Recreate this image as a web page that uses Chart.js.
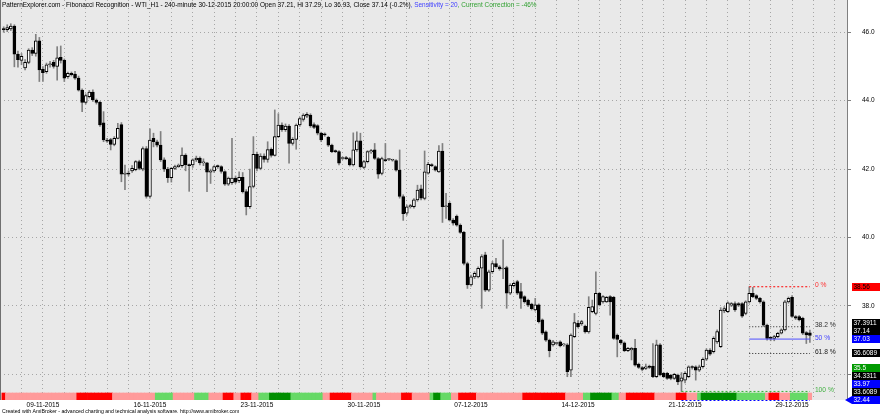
<!DOCTYPE html>
<html><head><meta charset="utf-8">
<script src="https://cdn.jsdelivr.net/npm/chart.js@4"></script>
<style>html,body{margin:0;padding:0;background:#fff;overflow:hidden}#wrap{width:880px;height:415px}</style>
</head><body><div id="wrap"><canvas id="c" width="880" height="415"></canvas></div>
<script>
// ---- data (240-minute bars, WTI) ----
const opens = [
46.10,46.08,46.10,46.18,45.36,45.18,44.96,45.12,45.48,45.38,
45.75,44.92,44.85,45.05,45.12,45.00,45.27,45.18,44.70,44.80,
44.78,44.66,44.31,43.95,44.12,44.25,44.02,43.95,43.35,42.85,
42.86,42.72,42.90,43.30,41.85,41.88,41.95,41.98,42.22,42.00,
42.60,41.20,42.90,42.80,42.70,42.27,42.00,41.75,42.02,42.07,
42.10,42.41,42.12,42.12,42.27,42.32,42.18,42.18,41.91,41.95,
42.10,42.07,41.93,41.56,41.60,41.74,41.66,41.76,41.34,40.90,
41.49,42.43,42.02,42.38,42.28,42.58,42.40,42.95,43.29,43.15,
43.26,42.75,42.87,43.29,43.45,43.55,43.58,43.30,43.27,43.05,
43.03,42.93,42.70,42.53,42.51,42.31,42.34,42.31,42.12,42.56,
42.83,42.05,42.22,42.50,42.56,42.31,41.87,42.28,42.28,42.26,
42.25,41.97,41.20,40.71,40.90,40.90,41.10,41.42,41.14,41.88,
42.12,42.07,41.92,42.53,40.90,41.00,40.51,40.63,40.36,40.15,
39.24,38.61,38.85,38.85,39.10,39.49,38.46,39.00,39.24,39.14,
39.08,39.12,38.37,38.59,38.71,38.42,38.27,38.17,38.05,37.88,
38.03,37.59,37.24,37.00,36.86,36.90,36.95,36.86,36.86,36.12,
37.10,37.49,37.47,37.41,37.24,37.83,37.78,38.37,38.12,38.12,
38.27,38.25,37.15,37.00,36.92,36.69,36.71,36.76,36.30,36.20,
36.17,36.24,36.24,35.93,36.86,36.03,36.03,35.98,35.88,35.98,
35.80,35.83,35.93,36.22,36.22,36.12,36.22,36.44,36.71,36.66,
36.95,36.81,37.85,37.83,38.02,38.07,38.07,38.07,37.78,38.12,
38.37,38.30,38.22,38.12,37.44,37.07,37.05,37.10,37.20,37.30,
38.12,38.25,37.69,37.69,37.64,37.22,37.21];
const highs = [
46.16,46.22,46.25,46.22,45.45,45.38,45.20,45.52,45.55,45.94,
45.85,45.00,45.10,45.15,45.18,45.58,45.60,45.22,44.84,44.84,
44.86,44.72,44.35,44.20,44.30,44.32,44.05,43.98,43.68,42.90,
42.90,42.95,43.34,43.36,42.12,41.95,42.10,42.25,42.26,42.65,
42.66,43.18,43.05,42.85,43.10,42.33,42.05,42.05,42.12,42.15,
42.62,42.45,42.15,42.30,42.38,42.36,42.30,42.20,42.00,42.10,
42.12,42.10,41.95,41.77,42.90,41.80,41.92,41.90,41.40,42.00,
42.95,42.50,42.45,42.45,42.80,42.62,43.73,43.62,43.35,43.32,
43.30,42.92,43.32,43.52,43.62,43.65,43.62,43.35,43.30,43.08,
43.06,42.96,42.73,42.56,42.54,42.36,42.37,42.34,43.06,43.09,
43.05,42.25,42.54,42.58,42.75,42.34,42.35,42.75,42.31,42.29,
42.28,42.56,41.25,40.95,40.97,41.14,41.53,41.53,42.53,42.20,
42.16,42.10,42.69,42.75,41.29,41.05,40.55,40.66,40.40,40.18,
39.28,38.90,39.00,39.14,39.50,39.57,39.05,39.30,39.39,39.18,
39.93,39.16,38.65,38.70,38.75,38.66,38.30,38.20,38.08,38.22,
38.06,37.62,37.27,37.03,36.99,36.94,36.98,36.90,36.90,37.18,
37.78,37.57,37.58,37.44,38.27,38.17,39.00,38.40,38.30,38.28,
38.30,38.28,37.18,37.02,36.95,36.79,36.79,37.02,36.33,36.23,
36.30,36.27,36.90,37.00,36.90,36.06,36.06,36.00,36.03,36.01,
36.05,36.08,36.25,36.25,36.25,36.27,36.48,36.75,36.75,37.10,
37.30,37.95,37.98,38.12,38.10,38.12,38.10,38.10,38.15,38.56,
38.54,38.33,38.25,38.15,37.47,37.10,37.14,37.23,37.33,38.16,
38.26,38.30,37.72,37.72,37.67,37.25,37.29];
const lows = [
46.00,46.02,46.05,44.99,44.98,45.05,44.90,45.08,45.32,45.30,
44.56,44.56,44.80,44.98,44.95,44.60,45.10,44.56,44.65,44.72,
44.62,44.28,43.68,43.90,44.08,43.98,43.90,43.25,42.80,42.78,
42.56,42.68,42.88,41.63,41.40,41.80,41.90,41.95,41.98,41.95,
41.15,41.15,42.65,42.65,42.22,41.93,41.61,41.62,41.98,42.05,
42.05,41.95,41.35,42.05,42.22,42.12,42.10,41.34,41.58,41.90,
42.02,41.88,41.52,41.52,41.55,41.58,41.60,41.30,40.66,40.85,
41.45,41.95,41.98,42.20,42.20,42.35,42.38,42.92,43.10,43.10,
42.17,42.70,42.58,43.25,43.40,43.50,43.22,43.18,43.00,42.80,
42.96,42.66,42.48,42.48,42.12,42.28,42.28,42.09,42.09,42.52,
42.03,42.02,42.18,42.46,42.28,41.73,41.83,42.22,42.25,42.23,
41.94,41.15,40.50,40.65,40.86,40.86,41.06,41.10,41.10,41.85,
42.07,41.94,41.90,40.44,40.56,40.48,40.36,40.33,40.12,39.20,
38.51,38.58,38.80,38.82,37.93,38.42,38.42,38.95,39.10,39.04,
38.80,37.93,38.33,38.55,38.33,37.93,38.08,37.98,37.88,37.85,
37.50,37.16,36.96,36.51,36.82,36.86,36.80,36.82,35.93,35.93,
37.07,37.36,37.43,37.20,37.20,37.80,37.74,38.00,38.08,38.10,
37.73,37.02,36.51,36.88,36.66,36.66,36.42,36.24,36.17,36.10,
36.14,36.17,35.90,35.90,35.95,35.90,35.85,35.84,35.85,35.70,
35.50,35.75,35.90,36.15,35.83,36.08,36.18,36.40,36.55,36.62,
36.90,36.78,37.80,37.80,37.98,37.84,37.98,37.66,37.74,38.08,
38.24,38.18,38.08,37.40,37.00,36.98,36.98,37.07,37.18,37.27,
38.08,37.66,37.60,37.56,37.16,36.90,36.93];
const closes = [
46.08,46.14,46.18,45.36,45.20,45.30,45.12,45.48,45.38,45.75,
44.90,44.82,45.05,45.08,45.00,45.25,45.18,44.66,44.80,44.76,
44.66,44.31,43.95,44.15,44.25,44.02,43.95,43.29,42.85,42.82,
42.72,42.90,43.19,41.85,41.88,41.85,42.02,42.22,42.02,42.60,
41.20,42.85,42.80,42.70,42.27,42.00,41.75,42.02,42.07,42.12,
42.41,42.12,42.10,42.27,42.32,42.18,42.20,41.91,41.95,42.07,
42.07,41.93,41.56,41.74,41.74,41.62,41.76,41.34,40.90,41.49,
42.43,42.02,42.38,42.28,42.57,42.40,42.95,43.29,43.15,43.26,
42.75,42.87,43.29,43.48,43.58,43.60,43.26,43.22,43.05,42.85,
43.00,42.70,42.51,42.51,42.17,42.34,42.30,42.12,42.56,42.83,
42.07,42.22,42.51,42.54,42.31,41.85,42.31,42.25,42.28,42.26,
41.97,41.20,40.70,40.90,40.93,41.10,41.39,41.15,41.92,42.14,
42.10,41.97,42.53,40.90,40.92,40.51,40.42,40.36,40.15,39.24,
38.61,38.85,38.95,39.10,39.44,38.46,39.00,39.24,39.15,39.08,
39.10,38.37,38.61,38.66,38.37,38.22,38.12,38.02,37.92,38.03,
37.54,37.20,37.00,36.69,36.95,36.90,36.83,36.86,36.08,37.15,
37.51,37.39,37.54,37.24,37.96,37.98,38.37,38.03,38.27,38.25,
38.12,37.05,37.02,36.92,36.69,36.76,36.76,36.27,36.20,36.14,
36.22,36.20,35.93,36.86,35.98,35.93,35.88,35.88,36.00,35.78,
35.90,36.03,36.22,36.20,36.12,36.22,36.44,36.71,36.59,37.05,
37.25,37.88,37.92,38.09,38.07,37.88,38.02,37.70,38.12,38.37,
38.27,38.22,38.12,37.44,37.05,37.05,37.10,37.20,37.30,38.12,
38.22,37.69,37.64,37.59,37.20,37.15,37.14];

// per-bar trend state strip: R red, P light red, G light green, D dark green
const stripStates = ("R"+"PPPPPPPPPPPPPPPPPPPP"+"RRRRRRRRRR"+"PPPPPPPPPPPP"+"GGGGG"+"PPPPPP"+"GGGG"+"PPPP"+"RRR"+"PP"+"RRR"+"PP"+"GGG"+"DDDDDD"+"GGGGGGGGG"+"PP"+"RRRRRR"+"PPPPPP"+"G"+"PPPPPPP"+"RRR"+"PPPPP"+"G"+"DD"+"GGG"+"PP"+"RRRRR"+"PPPPPPPPPPPPP"+"RRRRRRRRRRRR"+"PPPPP"+"GG"+"DDDDDD"+"GG"+"PP"+"RRRRRRRR"+"PPPPPP"+"RRR"+"PPP"+"G"+"DDDDDDDDDD"+"GGGGGGGG"+"P"+"RRR"+"PPP"+"GGGGG"+"P").split("");

const dateBars = [11, 41, 71, 101, 131, 161, 191, 221];
const dateLabels = ["09-11-2015","16-11-2015","23-11-2015","30-11-2015","07-12-2015","14-12-2015","21-12-2015","29-12-2015"];
const priceTicks = [36, 38, 40, 42, 44, 46];

const fibNames = ["0 %", "38.2 %", "50 %", "61.8 %", "100 %"];
const fibValues = [38.56, 37.3911, 37.03, 36.6089, 35.5];
const fibStartBars = [209, 209, 209, 209, 190];
const fibEndBar = 226;
const ext200Value = 32.44;

const boxTexts = ["38.56","37.3911","37.14","37.03","36.6089","35.5","34.3311","33.97","33.6089","32.44"];
const boxValues = [38.56, 37.3911, 37.14, 37.03, 36.6089, 35.5, 34.3311, 33.97, 33.6089, 32.44];

const titleParts = ["PatternExplorer.com - Fibonacci Recognition - WTI_H1 - 240-minute 30-12-2015 20:00:00 Open 37.21, Hi 37.29, Lo 36.93, Close 37.14 (-0.2%)", ", Sensitivity = 20", ", Current Correction = -46%"];
const footerText = "Created with AmiBroker - advanced charting and technical analysis software. http://www.amibroker.com";

// ---- styles ----
const FONT = "'Liberation Sans', Arial, sans-serif";
const Y_MIN = 35.249, Y_MAX = 46.944, X_MIN = -1.03, X_MAX = 236.4;
const STRIP_TOP = Y_MIN + (Y_MAX - Y_MIN) * 7 / 400;
const STRIP_COLORS = {R:'#FF0000', P:'#FF9A9A', G:'#66D966', D:'#008E00'};
const FIB_COLORS = ['#FF0000', '#202020', '#5050FF', '#202020', '#30B030'];
const FIB_DASH = [[2,2],[1,2],[],[1,2],[2,2]];
const FIB_TEXT_COLORS = ['#FF3030', '#303030', '#4040FF', '#202020', '#40B040'];
const BOX_FILL = ['#FF0000','#000000','#000000','#0000FF','#000000','#009A00','#000000','#0000FF','#000000','#0000FF'];
const BOX_TEXT = ['#000000','#FFFFFF','#FFFFFF','#FFFFFF','#FFFFFF','#FFFFFF','#FFFFFF','#FFFFFF','#FFFFFF','#FFFFFF'];
const TITLE_COLORS = ['#000000', '#4040FF', '#30A030'];

const dayTicks = [];
for (let b = 5; b <= X_MAX; b += 6) dayTicks.push(b);
const labelMap = {};
dateBars.forEach((b, i) => labelMap[b] = dateLabels[i]);

function fitFont(ctx, text, width) {
  ctx.font = "10px " + FONT;
  const w = ctx.measureText(text).width;
  return 10 * width / w;
}

const deco = {
  id: 'deco',
  beforeDraw(chart) {
    const {ctx, chartArea: a} = chart;
    ctx.save();
    ctx.fillStyle = '#FFFFFF';
    ctx.fillRect(0, 0, chart.width, chart.height);
    ctx.fillStyle = '#E9E9E9';
    ctx.fillRect(a.left, a.top, a.right - a.left, a.bottom - a.top);
    ctx.restore();
  },
  afterDraw(chart) {
    const {ctx, chartArea: a, scales: {x, y}} = chart;
    ctx.save();
    // left frame
    ctx.strokeStyle = '#707070'; ctx.lineWidth = 1;
    ctx.beginPath(); ctx.moveTo(0.5, a.top); ctx.lineTo(0.5, a.bottom); ctx.stroke();
    // 200% extension line pinned at bottom
    ctx.strokeStyle = '#0000FF'; ctx.setLineDash([2,2]);
    ctx.beginPath(); ctx.moveTo(x.getPixelForValue(fibStartBars[4]), a.bottom + 0.5);
    ctx.lineTo(x.getPixelForValue(fibEndBar), a.bottom + 0.5); ctx.stroke();
    ctx.setLineDash([]);
    // fib level texts
    ctx.font = "6.7px " + FONT; ctx.textBaseline = 'alphabetic'; ctx.textAlign = 'left';
    const tx = x.getPixelForValue(fibEndBar) + 5;
    fibNames.forEach((n, i) => {
      ctx.fillStyle = FIB_TEXT_COLORS[i];
      ctx.fillText(n, tx, y.getPixelForValue(fibValues[i]) + 0.5);
    });
    // value boxes on the right axis, stacked to avoid overlap
    const order = boxValues.map((v, i) => i).sort((p, q) => boxValues[p] - boxValues[q]);
    let prev = Infinity;
    const pos = [];
    order.forEach(i => {
      let py = Math.min(y.getPixelForValue(boxValues[i]), a.bottom);
      py = Math.min(py, prev - 8);
      pos[i] = py; prev = py;
    });
    ctx.font = "6.5px " + FONT; ctx.textBaseline = 'middle';
    boxValues.forEach((v, i) => {
      const py = pos[i];
      ctx.fillStyle = BOX_FILL[i];
      ctx.fillRect(852, Math.round(py - 4), 28, 8);
      if (i === boxValues.length - 1) {
        ctx.beginPath(); ctx.moveTo(845, py); ctx.lineTo(852, py - 4); ctx.lineTo(852, py + 4); ctx.closePath(); ctx.fill();
      }
      ctx.fillStyle = BOX_TEXT[i];
      ctx.fillText(boxTexts[i], 853.5, Math.round(py - 4) + 4.3);
    });
    // title
    const full = titleParts.join("");
    const fs = fitFont(ctx, full, 536);
    ctx.font = fs + "px " + FONT; ctx.textBaseline = 'middle'; ctx.textAlign = 'left';
    let cx = 2;
    titleParts.forEach((t, i) => {
      ctx.fillStyle = TITLE_COLORS[i];
      ctx.fillText(t, cx, 5.5);
      cx += ctx.measureText(t).width;
    });
    // footer
    const fs2 = fitFont(ctx, footerText, 238);
    ctx.font = fs2 + "px " + FONT; ctx.fillStyle = '#000';
    ctx.fillText(footerText, 2, 411.5);
    ctx.restore();
  }
};

const idx = opens.map((o, i) => i);
const datasets = [
  { label: 'wick', data: idx.map(i => ({x: i, y: [lows[i], highs[i]]})),
    backgroundColor: '#808080', barThickness: 1, grouped: false, order: 5 },
  { label: 'body', data: idx.map(i => ({x: i, y: [opens[i], closes[i]]})),
    backgroundColor: idx.map(i => closes[i] >= opens[i] ? '#FFFFFF' : '#000000'),
    borderColor: '#000000', borderWidth: 1, borderSkipped: false, barThickness: 3, minBarLength: 1,
    grouped: false, order: 4 },
  { label: 'strip', data: stripStates.map((s, i) => ({x: i, y: [Y_MIN, STRIP_TOP]})),
    backgroundColor: stripStates.map(s => STRIP_COLORS[s]), barThickness: 3.62, grouped: false, order: 3 }
];
fibValues.forEach((v, i) => {
  datasets.push({ type: 'line', label: fibNames[i],
    data: [{x: fibStartBars[i], y: v}, {x: fibEndBar, y: v}],
    borderColor: FIB_COLORS[i], borderDash: FIB_DASH[i], borderWidth: 1, pointRadius: 0, pointHoverRadius: 0, order: 1 });
});

new Chart(document.getElementById('c'), {
  type: 'bar',
  data: { datasets },
  options: {
    responsive: false, devicePixelRatio: 1, animation: false,
    layout: { padding: 0, autoPadding: false },
    plugins: { legend: { display: false }, tooltip: { enabled: false }, title: { display: false } },
    scales: {
      x: {
        type: 'linear', min: X_MIN, max: X_MAX, offset: false, position: 'bottom',
        afterFit: s => { s.height = 15; s.paddingLeft = 0; s.paddingRight = 0; s.paddingTop = 0; s.paddingBottom = 0; },
        afterBuildTicks: s => { s.ticks = dayTicks.map(v => ({value: v})); },
        grid: { color: '#A6A6A6', lineWidth: 1, drawTicks: false, offset: false },
        border: { display: false, dash: [1, 3] },
        ticks: { autoSkip: false, maxRotation: 0, padding: 1.5, color: '#000',
          font: { family: FONT, size: 6.5 }, callback: v => labelMap[v] || '' }
      },
      y: {
        type: 'linear', position: 'right', min: Y_MIN, max: Y_MAX,
        afterFit: s => { s.width = 33; s.paddingTop = 0; s.paddingBottom = 0; s.paddingLeft = 0; s.paddingRight = 0; },
        afterBuildTicks: s => { s.ticks = priceTicks.map(v => ({value: v})); },
        grid: { color: '#A6A6A6', lineWidth: 1, tickLength: 4, tickColor: '#808080', tickBorderDash: [] },
        border: { display: true, color: '#808080', dash: [1, 3] },
        ticks: { padding: 11, color: '#000', font: { family: FONT, size: 6.5 }, callback: v => Number(v).toFixed(1) }
      }
    }
  },
  plugins: [deco]
});
</script>
</body></html>
